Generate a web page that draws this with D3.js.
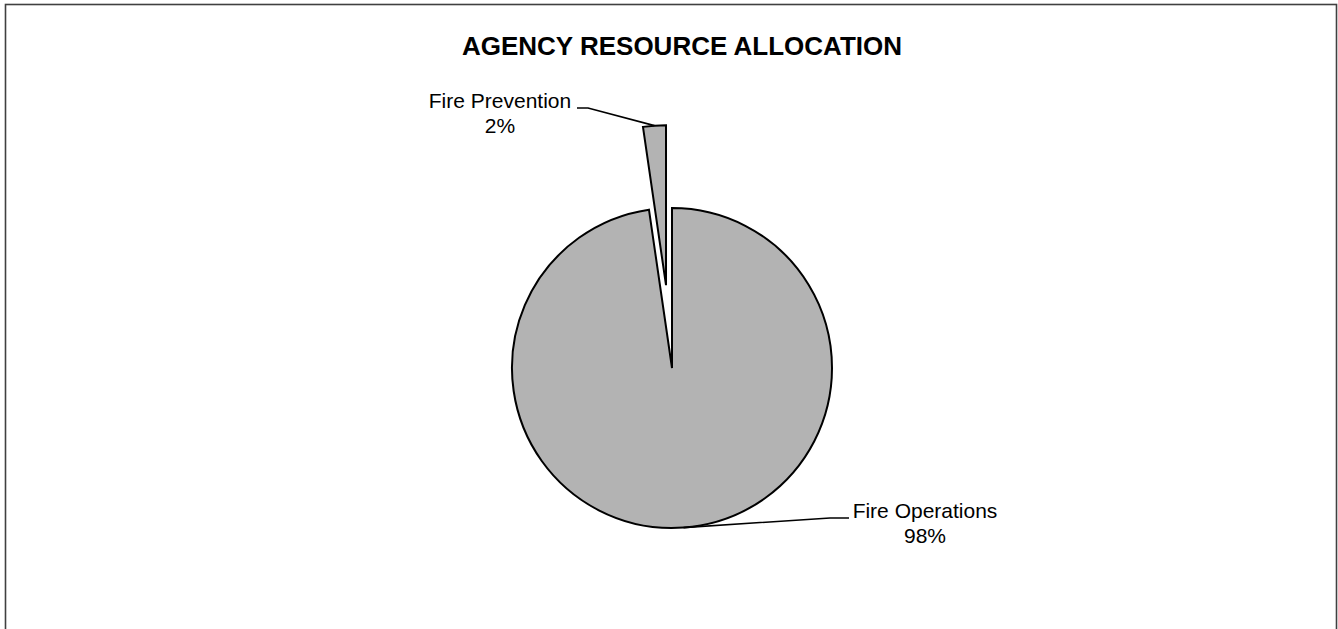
<!DOCTYPE html>
<html>
<head>
<meta charset="utf-8">
<script src="https://cdn.jsdelivr.net/npm/d3@7"></script>
<style>
  html, body { margin: 0; padding: 0; background: #fff; }
  svg { display: block; font-family: "Liberation Sans", Arial, sans-serif; }
</style>
</head>
<body>
<svg id="chart" width="1338" height="629"></svg>
<script>
'use strict';

// chart values
var categories = ['Fire Operations', 'Fire Prevention'],
    shares = [97.7, 2.3],
    labelPercents = ['98%', '2%'],
    explodeFlags = [false, true];

var W = 1338, H = 629,
    cx = 672, cy = 368,
    radius = 160,
    explodeDist = 83,
    svg = d3.select('#chart');

// outer frame (bottom edge runs past the window)
svg.append('rect')
  .attr('x', 5.5).attr('y', 4.5)
  .attr('width', 1331).attr('height', 700)
  .attr('fill', 'none')
  .attr('stroke', '#404040')
  .attr('stroke-width', 1.6);

svg.append('text')
  .attr('x', 682).attr('y', 55)
  .attr('text-anchor', 'middle')
  .attr('font-size', 26)
  .attr('font-weight', 'bold')
  .text('AGENCY RESOURCE ALLOCATION');

var pie = d3.pie().sort(null).value(function (d) { return d; }),
    arc = d3.arc().innerRadius(0).outerRadius(radius),
    arcs = pie(shares);

function offsetFor(d, i) {
  if (!explodeFlags[i]) { return [0, 0]; }
  var mid = (d.startAngle + d.endAngle) / 2;
  return [explodeDist * Math.sin(mid), -explodeDist * Math.cos(mid)];
}

function edgePoint(d, i) {
  var mid = (d.startAngle + d.endAngle) / 2,
      off = offsetFor(d, i);
  return [cx + off[0] + radius * Math.sin(mid), cy + off[1] - radius * Math.cos(mid)];
}

var g = svg.append('g').attr('transform', 'translate(' + cx + ',' + cy + ')');

g.selectAll('path.slice')
  .data(arcs)
  .enter().append('path')
  .attr('class', 'slice')
  .attr('d', arc)
  .attr('transform', function (d, i) {
    var off = offsetFor(d, i);
    return 'translate(' + off[0] + ',' + off[1] + ')';
  })
  .attr('fill', '#b3b3b3')
  .attr('stroke', '#000')
  .attr('stroke-width', 2)
  .attr('stroke-linejoin', 'miter');

// label anchors (text centre x, first baseline y) and the leader elbow
var labelSpots = [
  { x: 925, y: 518, elbow: [[830, 518], [849, 518]] },
  { x: 500, y: 108, elbow: [[588, 108], [577, 108]] }
];

var line = d3.line();

arcs.forEach(function (d, i) {
  var spot = labelSpots[i],
      pts = [edgePoint(d, i)].concat(spot.elbow);

  svg.append('path')
    .attr('d', line(pts))
    .attr('fill', 'none')
    .attr('stroke', '#000')
    .attr('stroke-width', 1.6);

  var t = svg.append('text')
    .attr('text-anchor', 'middle')
    .attr('font-size', 21)
    .attr('fill', '#000');
  t.append('tspan').attr('x', spot.x).attr('y', spot.y).text(categories[i]);
  t.append('tspan').attr('x', spot.x).attr('y', spot.y + 25).text(labelPercents[i]);
});
</script>
</body>
</html>
